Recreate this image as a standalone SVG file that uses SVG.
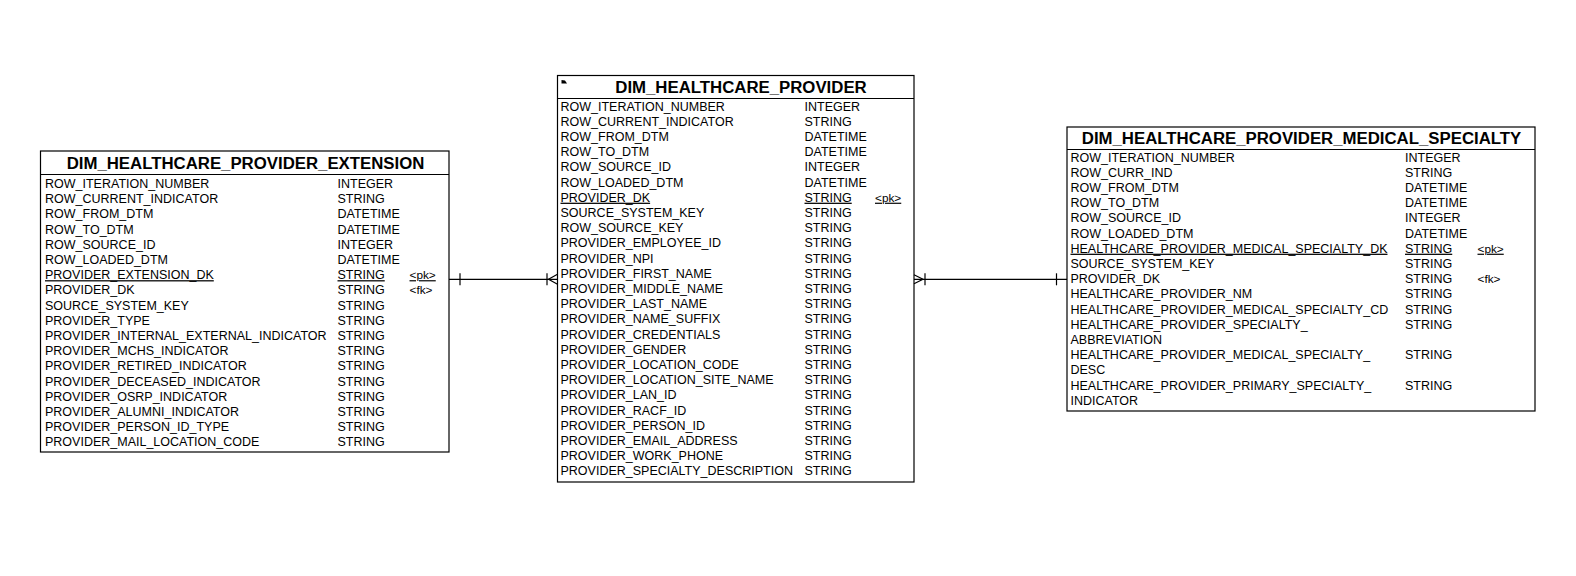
<svg xmlns="http://www.w3.org/2000/svg" width="1576" height="576" viewBox="0 0 1576 576">
<style>
.box{fill:#fff;stroke:#000;stroke-width:1.2}
.div{stroke:#000;stroke-width:1.2}
.title{font-family:"Liberation Sans",Arial,sans-serif;font-weight:bold;font-size:16.8px;text-anchor:middle;fill:#000}
.t{font-family:"Liberation Sans",Arial,sans-serif;font-size:12.5px;fill:#000}
.u{text-decoration:underline}
.k{font-size:11.8px}
.c{stroke:#000;stroke-width:1.2;fill:none}
</style>
<rect width="1576" height="576" fill="#fff"/>
<g id="dim_healthcare_provider_extension">
<rect class="box" x="40.5" y="151" width="408.5" height="301"/>
<line class="div" x1="40.5" y1="174.5" x2="449" y2="174.5"/>
<text class="title" x="245.5" y="168.5">DIM_HEALTHCARE_PROVIDER_EXTENSION</text>
<g class="t">
<text x="45" y="188">ROW_ITERATION_NUMBER</text><text x="337.5" y="188">INTEGER</text>
<text x="45" y="203.2">ROW_CURRENT_INDICATOR</text><text x="337.5" y="203.2">STRING</text>
<text x="45" y="218.4">ROW_FROM_DTM</text><text x="337.5" y="218.4">DATETIME</text>
<text x="45" y="233.6">ROW_TO_DTM</text><text x="337.5" y="233.6">DATETIME</text>
<text x="45" y="248.8">ROW_SOURCE_ID</text><text x="337.5" y="248.8">INTEGER</text>
<text x="45" y="264">ROW_LOADED_DTM</text><text x="337.5" y="264">DATETIME</text>
<text class="u" x="45" y="279.2">PROVIDER_EXTENSION_DK</text><text class="u" x="337.5" y="279.2">STRING</text><text class="u k" x="409.5" y="279.2">&lt;pk&gt;</text>
<text x="45" y="294.4">PROVIDER_DK</text><text x="337.5" y="294.4">STRING</text><text class="k" x="409.5" y="294.4">&lt;fk&gt;</text>
<text x="45" y="309.6">SOURCE_SYSTEM_KEY</text><text x="337.5" y="309.6">STRING</text>
<text x="45" y="324.8">PROVIDER_TYPE</text><text x="337.5" y="324.8">STRING</text>
<text x="45" y="340">PROVIDER_INTERNAL_EXTERNAL_INDICATOR</text><text x="337.5" y="340">STRING</text>
<text x="45" y="355.2">PROVIDER_MCHS_INDICATOR</text><text x="337.5" y="355.2">STRING</text>
<text x="45" y="370.4">PROVIDER_RETIRED_INDICATOR</text><text x="337.5" y="370.4">STRING</text>
<text x="45" y="385.6">PROVIDER_DECEASED_INDICATOR</text><text x="337.5" y="385.6">STRING</text>
<text x="45" y="400.8">PROVIDER_OSRP_INDICATOR</text><text x="337.5" y="400.8">STRING</text>
<text x="45" y="416">PROVIDER_ALUMNI_INDICATOR</text><text x="337.5" y="416">STRING</text>
<text x="45" y="431.2">PROVIDER_PERSON_ID_TYPE</text><text x="337.5" y="431.2">STRING</text>
<text x="45" y="446.4">PROVIDER_MAIL_LOCATION_CODE</text><text x="337.5" y="446.4">STRING</text>
</g>
</g>
<g id="dim_healthcare_provider">
<rect class="box" x="557.5" y="75.5" width="356.5" height="406.5"/>
<line class="div" x1="557.5" y1="98.5" x2="914" y2="98.5"/>
<polygon points="561.5,80 565,80.5 567,83.5 561.5,83.5" fill="#000"/>
<text class="title" x="741" y="93">DIM_HEALTHCARE_PROVIDER</text>
<g class="t">
<text x="560.5" y="110.5">ROW_ITERATION_NUMBER</text><text x="804.5" y="110.5">INTEGER</text>
<text x="560.5" y="125.7">ROW_CURRENT_INDICATOR</text><text x="804.5" y="125.7">STRING</text>
<text x="560.5" y="140.9">ROW_FROM_DTM</text><text x="804.5" y="140.9">DATETIME</text>
<text x="560.5" y="156.1">ROW_TO_DTM</text><text x="804.5" y="156.1">DATETIME</text>
<text x="560.5" y="171.3">ROW_SOURCE_ID</text><text x="804.5" y="171.3">INTEGER</text>
<text x="560.5" y="186.5">ROW_LOADED_DTM</text><text x="804.5" y="186.5">DATETIME</text>
<text class="u" x="560.5" y="201.7">PROVIDER_DK</text><text class="u" x="804.5" y="201.7">STRING</text><text class="u k" x="875" y="201.7">&lt;pk&gt;</text>
<text x="560.5" y="216.9">SOURCE_SYSTEM_KEY</text><text x="804.5" y="216.9">STRING</text>
<text x="560.5" y="232.1">ROW_SOURCE_KEY</text><text x="804.5" y="232.1">STRING</text>
<text x="560.5" y="247.3">PROVIDER_EMPLOYEE_ID</text><text x="804.5" y="247.3">STRING</text>
<text x="560.5" y="262.5">PROVIDER_NPI</text><text x="804.5" y="262.5">STRING</text>
<text x="560.5" y="277.7">PROVIDER_FIRST_NAME</text><text x="804.5" y="277.7">STRING</text>
<text x="560.5" y="292.9">PROVIDER_MIDDLE_NAME</text><text x="804.5" y="292.9">STRING</text>
<text x="560.5" y="308.1">PROVIDER_LAST_NAME</text><text x="804.5" y="308.1">STRING</text>
<text x="560.5" y="323.3">PROVIDER_NAME_SUFFIX</text><text x="804.5" y="323.3">STRING</text>
<text x="560.5" y="338.5">PROVIDER_CREDENTIALS</text><text x="804.5" y="338.5">STRING</text>
<text x="560.5" y="353.7">PROVIDER_GENDER</text><text x="804.5" y="353.7">STRING</text>
<text x="560.5" y="368.9">PROVIDER_LOCATION_CODE</text><text x="804.5" y="368.9">STRING</text>
<text x="560.5" y="384.1">PROVIDER_LOCATION_SITE_NAME</text><text x="804.5" y="384.1">STRING</text>
<text x="560.5" y="399.3">PROVIDER_LAN_ID</text><text x="804.5" y="399.3">STRING</text>
<text x="560.5" y="414.5">PROVIDER_RACF_ID</text><text x="804.5" y="414.5">STRING</text>
<text x="560.5" y="429.7">PROVIDER_PERSON_ID</text><text x="804.5" y="429.7">STRING</text>
<text x="560.5" y="444.9">PROVIDER_EMAIL_ADDRESS</text><text x="804.5" y="444.9">STRING</text>
<text x="560.5" y="460.1">PROVIDER_WORK_PHONE</text><text x="804.5" y="460.1">STRING</text>
<text x="560.5" y="475.3">PROVIDER_SPECIALTY_DESCRIPTION</text><text x="804.5" y="475.3">STRING</text>
</g>
</g>
<g id="dim_healthcare_provider_medical_specialty">
<rect class="box" x="1067" y="127" width="468" height="284"/>
<line class="div" x1="1067" y1="149.5" x2="1535" y2="149.5"/>
<text class="title" x="1301.5" y="144">DIM_HEALTHCARE_PROVIDER_MEDICAL_SPECIALTY</text>
<g class="t">
<text x="1070.5" y="161.5">ROW_ITERATION_NUMBER</text><text x="1405" y="161.5">INTEGER</text>
<text x="1070.5" y="176.7">ROW_CURR_IND</text><text x="1405" y="176.7">STRING</text>
<text x="1070.5" y="191.9">ROW_FROM_DTM</text><text x="1405" y="191.9">DATETIME</text>
<text x="1070.5" y="207.1">ROW_TO_DTM</text><text x="1405" y="207.1">DATETIME</text>
<text x="1070.5" y="222.3">ROW_SOURCE_ID</text><text x="1405" y="222.3">INTEGER</text>
<text x="1070.5" y="237.5">ROW_LOADED_DTM</text><text x="1405" y="237.5">DATETIME</text>
<text class="u" x="1070.5" y="252.7">HEALTHCARE_PROVIDER_MEDICAL_SPECIALTY_DK</text><text class="u" x="1405" y="252.7">STRING</text><text class="u k" x="1477.5" y="252.7">&lt;pk&gt;</text>
<text x="1070.5" y="267.9">SOURCE_SYSTEM_KEY</text><text x="1405" y="267.9">STRING</text>
<text x="1070.5" y="283.1">PROVIDER_DK</text><text x="1405" y="283.1">STRING</text><text class="k" x="1477.5" y="283.1">&lt;fk&gt;</text>
<text x="1070.5" y="298.3">HEALTHCARE_PROVIDER_NM</text><text x="1405" y="298.3">STRING</text>
<text x="1070.5" y="313.5">HEALTHCARE_PROVIDER_MEDICAL_SPECIALTY_CD</text><text x="1405" y="313.5">STRING</text>
<text x="1070.5" y="328.7">HEALTHCARE_PROVIDER_SPECIALTY_</text><text x="1405" y="328.7">STRING</text>
<text x="1070.5" y="343.9">ABBREVIATION</text>
<text x="1070.5" y="359.1">HEALTHCARE_PROVIDER_MEDICAL_SPECIALTY_</text><text x="1405" y="359.1">STRING</text>
<text x="1070.5" y="374.3">DESC</text>
<text x="1070.5" y="389.5">HEALTHCARE_PROVIDER_PRIMARY_SPECIALTY_</text><text x="1405" y="389.5">STRING</text>
<text x="1070.5" y="404.7">INDICATOR</text>
</g>
</g>
<g id="connectors">
<line class="c" x1="449" y1="279.3" x2="557.5" y2="279.3"/>
<line class="c" x1="460" y1="273.3" x2="460" y2="285.3"/>
<line class="c" x1="547" y1="273.3" x2="547" y2="285.3"/>
<polyline class="c" points="557.5,274.3 548.5,279.3 557.5,284.3"/>
<line class="c" x1="914" y1="279.3" x2="1067" y2="279.3"/>
<polyline class="c" points="914,274.8 923,279.3 914,283.8"/>
<line class="c" x1="925" y1="273.3" x2="925" y2="285.3"/>
<line class="c" x1="1056.5" y1="273.3" x2="1056.5" y2="285.3"/>
</g>
</svg>
